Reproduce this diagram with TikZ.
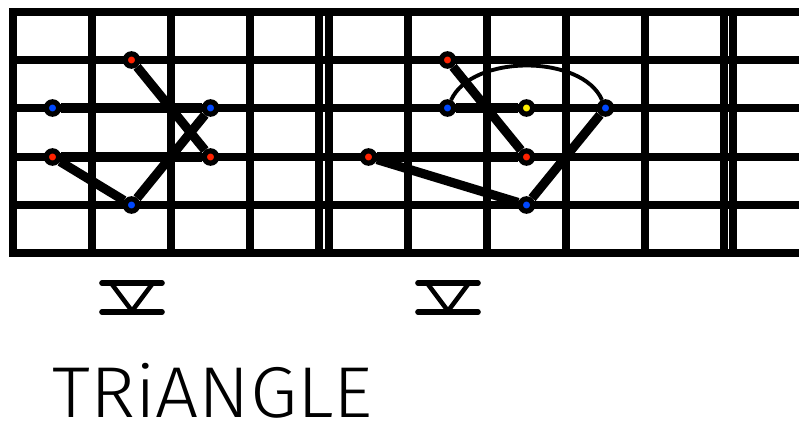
\documentclass[tikz,border=0pt]{standalone}
\usepackage{fontspec}
\usepackage{tikz}
\usetikzlibrary{positioning}
\IfFontExistsTF{Fira Sans Light}
  {\newfontfamily\titlefont{Fira Sans Light}}
  {\newfontfamily\titlefont{Fira Sans}}
\definecolor{noteRed}{HTML}{FF2200}
\definecolor{noteBlue}{HTML}{0048FF}
\definecolor{noteYellow}{HTML}{FFEE00}

\begin{document}
\begin{tikzpicture}[x=0.02cm, y=-0.02cm,
  fretLine/.style={line width=4pt, line cap=rect},
  linkLine/.style={line width=5.2pt},
  noteDot/.style={circle, draw=black, line width=3pt, minimum size=7pt, inner sep=0pt}]
  \useasboundingbox (0,0) rectangle (799,426);
  % strings and frets
  \foreach \y in {12,60,108,157,205,253}
    \draw[fretLine] (13,\y) -- (799,\y);
  \foreach \x in {13,92,171,250,319,329,408,487,566,645,724,733}
    \draw[fretLine] (\x,12) -- (\x,253);
  % left shape
  \node[noteDot, fill=noteRed] (lRedA) at (131.5,60) {};
  \node[noteDot, fill=noteBlue] (lBlueA) at (52.5,108) {};
  \node[noteDot, fill=noteBlue] (lBlueB) at (210.5,108) {};
  \node[noteDot, fill=noteRed] (lRedB) at (52.5,157) {};
  \node[noteDot, fill=noteRed] (lRedC) at (210.5,157) {};
  \node[noteDot, fill=noteBlue] (lBlueC) at (131.5,205) {};
  \draw[linkLine] (lRedA) -- (lRedC);
  \draw[linkLine] (lRedC) -- (lRedB);
  \draw[linkLine] (lRedB) -- (lBlueC);
  \draw[linkLine] (lBlueC) -- (lBlueB);
  \draw[linkLine] (lBlueB) -- (lBlueA);
  % right shape
  \node[noteDot, fill=noteRed] (rRedA) at (447.5,60) {};
  \node[noteDot, fill=noteBlue] (rBlueA) at (447.5,108) {};
  \node[noteDot, fill=noteYellow] (rYellow) at (526.5,108) {};
  \node[noteDot, fill=noteBlue] (rBlueB) at (605.5,108) {};
  \node[noteDot, fill=noteRed] (rRedZ) at (368.5,157) {};
  \node[noteDot, fill=noteRed] (rRedB) at (526.5,157) {};
  \node[noteDot, fill=noteBlue] (rBlueC) at (526.5,205) {};
  \draw[linkLine] (rRedA) -- (rRedB);
  \draw[linkLine] (rRedB) -- (rRedZ);
  \draw[linkLine] (rRedZ) -- (rBlueC);
  \draw[linkLine] (rBlueC) -- (rBlueB);
  \draw[linkLine] (rBlueA) -- (rYellow);
  \draw[line width=2.2pt] (rBlueA) .. controls (472,54) and (582,54) .. (rBlueB);
  % position marks
  \foreach \c in {132,448} {
    \draw[line width=3.2pt, line cap=round] (\c-30,283) -- (\c+30,283);
    \draw[line width=3.2pt, line cap=round] (\c-30,312) -- (\c+30,312);
    \draw[line width=2.6pt] (\c-21,283) -- (\c,311) -- (\c+21,283);
  }
  \node[anchor=base west, inner sep=0pt, xscale=1.06, font=\titlefont\fontsize{41}{41}\selectfont] (title) at (52,417) {TRiANGLE};
\end{tikzpicture}
\end{document}
